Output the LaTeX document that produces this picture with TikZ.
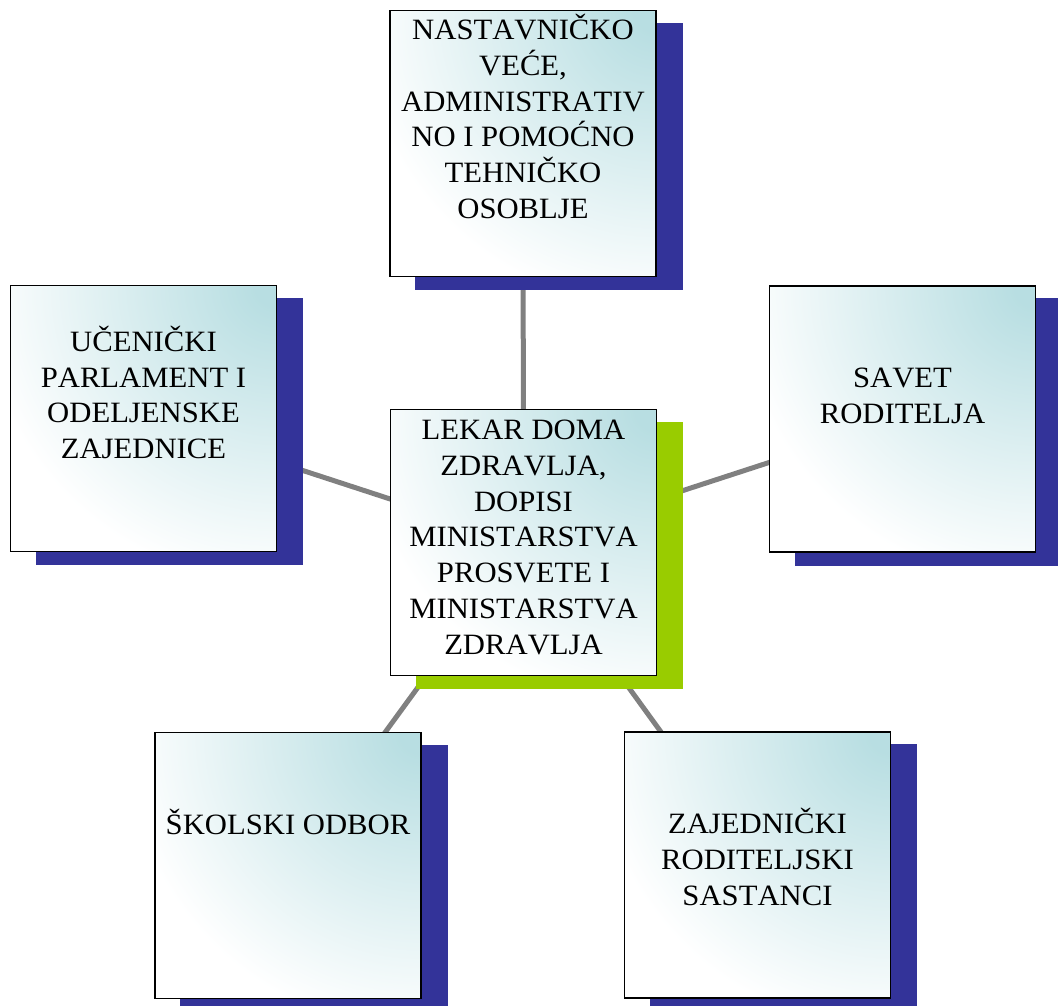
\documentclass[tikz,border=0pt]{standalone}
\usepackage{fontspec}
\setmainfont[Kerning=Off,FakeStretch=1.04]{Liberation Serif}
\usetikzlibrary{calc}

\definecolor{shblue}{HTML}{333399}
\definecolor{shgreen}{HTML}{99CC00}
\definecolor{linkgray}{HTML}{808080}

% teal (0.722,0.871,0.886) in the upper right corner of the shaded path
% (the path covers the central 50bp square), fading to white with distance
\pgfdeclarefunctionalshading{cornerfade}{\pgfpoint{-50bp}{-50bp}}{\pgfpoint{50bp}{50bp}}{}{%
  25 exch sub dup mul exch 25 exch sub dup mul add sqrt
  4 sub dup 0 lt {pop 0} if
  52 div dup 1 gt {pop 1} if
  dup 0.278 mul 0.722 add exch
  dup 0.129 mul 0.871 add exch
  0.114 mul 0.886 add
}

\pgfdeclarelayer{links}
\pgfdeclarelayer{shadows}
\pgfsetlayers{links,shadows,main}

\newcommand\boxfont{\fontsize{29.5}{35.8}\selectfont}
\newcommand\firstline{\rule{0pt}{29.5pt}}

\tikzset{
  box/.style={rectangle, draw=black, line width=1.5pt, shading=cornerfade,
    minimum width=266pt, minimum height=266pt, inner sep=0pt},
  lbl/.style={anchor=north, inner sep=0pt, align=center, font=\boxfont},
  link/.style={draw=linkgray, line width=5pt},
}

\begin{document}
\begin{tikzpicture}[x=1pt,y=-1pt]
\useasboundingbox (0,0) rectangle (1058,1005);

% boxes
\node[box] (staff)   at (523,143.5) {};
\node[box] (pupils)  at (143.5,418.5) {};
\node[box] (council) at (902.5,419) {};
\node[box] (health)  at (523.5,542.5) {};
\node[box] (board)   at (288,865.5) {};
\node[box] (meet)    at (757.5,865) {};

% texts
\node[lbl] (staff-t)   at (523,9.8)   {\firstline NASTAVNIČKO\\VEĆE,\\ADMINISTRATIV\\NO I POMOĆNO\\TEHNIČKO\\OSOBLJE};
\node[lbl] (pupils-t)  at (143.5,321.5) {\firstline UČENIČKI\\PARLAMENT I\\ODELJENSKE\\ZAJEDNICE};
\node[lbl] (council-t) at (902.5,357.8) {\firstline SAVET\\RODITELJA};
\node[lbl] (health-t)  at (523.5,409.8) {\firstline LEKAR DOMA\\ZDRAVLJA,\\DOPISI\\MINISTARSTVA\\PROSVETE I\\MINISTARSTVA\\ZDRAVLJA};
\node[lbl] (board-t)   at (288,804.5) {\firstline ŠKOLSKI ODBOR};
\node[lbl] (meet-t)    at (757.5,803.8) {\firstline ZAJEDNIČKI\\RODITELJSKI\\SASTANCI};

% offset shadows
\begin{pgfonlayer}{shadows}
  \foreach \n/\c in {staff/shblue, pupils/shblue, council/shblue, health/shgreen, board/shblue, meet/shblue}
    \fill[\c] ([shift={(26pt,-13pt)}]\n.south west) rectangle ([shift={(26pt,-13pt)}]\n.north east);
\end{pgfonlayer}

% connectors from the centre box
\begin{pgfonlayer}{links}
  \foreach \n in {staff, pupils, council, board, meet}
    \draw[link] (health.center) -- (\n.center);
\end{pgfonlayer}
\end{tikzpicture}
\end{document}
